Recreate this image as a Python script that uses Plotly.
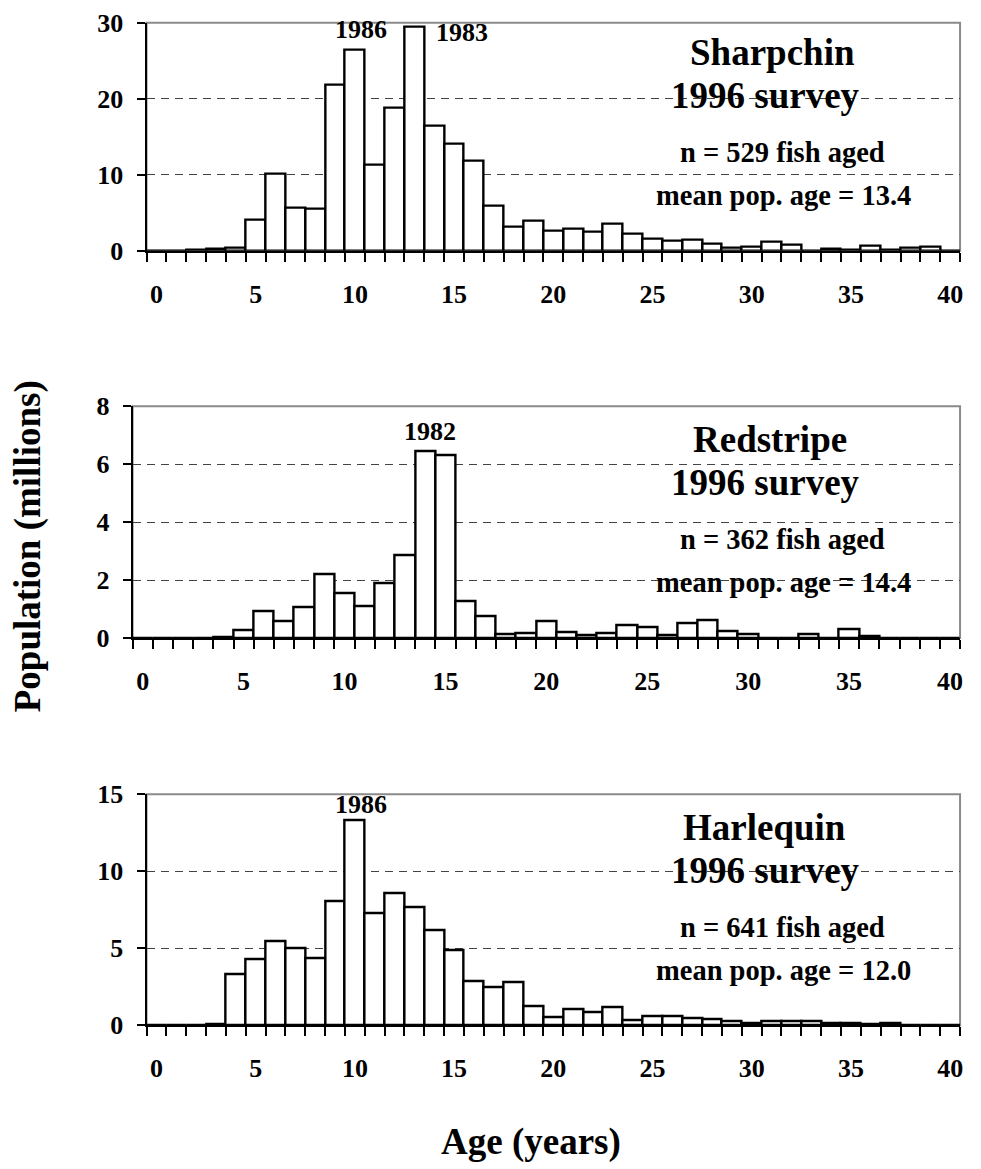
import plotly.graph_objects as go

# ---------------- data ----------------
ages = list(range(0, 41))

sharpchin = [0, 0, 0.1, 0.3, 0.45, 4.1, 10.2, 5.6, 5.5, 21.9, 26.5, 11.3, 18.8, 29.5,
             16.4, 14.1, 11.9, 5.9, 3.1, 3.9, 2.6, 2.95, 2.5, 3.6, 2.2, 1.55, 1.3, 1.5,
             0.9, 0.4, 0.55, 1.2, 0.75, 0, 0.25, 0.2, 0.6, 0.2, 0.4, 0.5, 0]

redstripe = [0, 0, 0, 0, 0.03, 0.29, 0.94, 0.59, 1.06, 2.2, 1.55, 1.09, 1.9, 2.85,
             6.44, 6.3, 1.29, 0.74, 0.13, 0.18, 0.57, 0.21, 0.1, 0.17, 0.43, 0.39, 0.09,
             0.53, 0.61, 0.24, 0.14, 0, 0, 0.15, 0, 0.3, 0.08, 0, 0, 0, 0]

harlequin = [0, 0, 0, 0.06, 3.29, 4.26, 5.43, 5.02, 4.37, 8.07, 13.3, 7.29, 8.55, 7.66,
             6.17, 4.85, 2.86, 2.47, 2.81, 1.21, 0.54, 1.06, 0.82, 1.17, 0.32, 0.61, 0.58,
             0.43, 0.37, 0.28, 0.15, 0.28, 0.28, 0.28, 0.1, 0.1, 0.08, 0.13, 0, 0, 0]

species = ["Sharpchin", "Redstripe", "Harlequin"]
survey_label = "1996 survey"
n_aged = [529, 362, 641]
mean_age = ["13.4", "14.4", "12.0"]
y_max = [30, 8, 15]
y_step = [10, 2, 5]
x_tick_labels = [0, 5, 10, 15, 20, 25, 30, 35, 40]
cohorts = [[("1986", 10, "above"), ("1983", 13, "right")],
           [("1982", 14, "above")],
           [("1986", 10, "above")]]
series = [sharpchin, redstripe, harlequin]

# ---------------- layout (pixels) ----------------
W, H = 981, 1169
SY, OY = 0.9756, 13.4          # observed vertical squeeze of the photographed page

def Y(y_ref):
    return (y_ref - OY) / SY

panels = [  # left, right, top, bottom (top/bottom in page pixels after compensation)
    (147, 963, 9.0, Y(250.3)),
    (133, 963, Y(405.7), Y(637.7)),
    (147, 963, Y(794), Y(1025)),
]
panel_tops_ref = [19.3, 405.7, 794]
species_x = [775, 772, 767]
cohort_yshift = [3, 3, -1]
FONT = "Liberation Serif"

def px(x):
    return x / W

def py(y):
    return 1 - y / H

fig = go.Figure()
layout = {}
annotations = []
shapes = []

for i, (vals, (l, r, t, b)) in enumerate(zip(series, panels)):
    idx = "" if i == 0 else str(i + 1)
    xa, ya = "x" + idx, "y" + idx
    fig.add_trace(go.Bar(
        x=ages, y=vals, width=1.0, xaxis=xa, yaxis=ya,
        marker=dict(color="white", line=dict(color="black", width=2.4)),
        showlegend=False, hoverinfo="x+y",
    ))
    layout["xaxis" + idx] = dict(
        domain=[px(l), px(r)], anchor=ya, range=[-0.5, 40.5],
        tickmode="array", tickvals=x_tick_labels, ticktext=[str(v) for v in x_tick_labels],
        ticks="", showgrid=False, zeroline=False,
        showline=True, linecolor="black", linewidth=2,
        tickfont=dict(family=FONT, size=26, color="black", weight="bold"),
        ticklabelstandoff=19,
        minor=dict(tickmode="array", tickvals=[a - 0.5 for a in ages] + [40.5],
                   ticks="outside", ticklen=9, tickcolor="black", tickwidth=1.5,
                   showgrid=False),
        fixedrange=True,
    )
    layout["yaxis" + idx] = dict(
        domain=[py(b), py(t)], anchor=xa, range=[0, y_max[i]],
        tickmode="linear", tick0=0, dtick=y_step[i],
        ticks="outside", ticklen=8, tickcolor="black", tickwidth=1.5,
        showgrid=True, gridcolor="#444444", gridwidth=1, griddash="8px,6px",
        zeroline=False, showline=True, linecolor="black", linewidth=2,
        tickfont=dict(family=FONT, size=26, color="black", weight="bold"),
        ticklabelstandoff=8, fixedrange=True,
    )
    shapes.append(dict(type="rect", xref=xa + " domain", yref=ya + " domain",
                       x0=0, x1=1, y0=0, y1=1, line=dict(color="#8a8a8a", width=2),
                       layer="below"))
    t_ref = panel_tops_ref[i]
    texts = [
        (species[i], species_x[i], 33, 37),
        (survey_label, 768, 76, 37),
        (f"n = {n_aged[i]} fish aged", 785, 133, 28.5),
        (f"mean pop. age = {mean_age[i]}", 786, 176, 28.5),
    ]
    for txt, cx, rel, fs in texts:
        annotations.append(dict(
            text=txt, x=px(cx), y=py(Y(t_ref + rel)), xref="paper", yref="paper",
            xanchor="center", yanchor="middle", showarrow=False,
            font=dict(family=FONT, size=fs, color="black", weight="bold"),
        ))
    for lab, age, pos in cohorts[i]:
        if pos == "above":
            annotations.append(dict(
                text=lab, x=age + (0.3 if i != 1 else 0.25), y=vals[age], xref=xa, yref=ya,
                xanchor="center", yanchor="bottom", yshift=cohort_yshift[i], showarrow=False,
                font=dict(family=FONT, size=26, color="black", weight="bold"),
            ))
        else:
            annotations.append(dict(
                text=lab, x=age + 0.5, y=vals[age], xref=xa, yref=ya,
                xanchor="left", yanchor="top", xshift=10, yshift=11, showarrow=False,
                font=dict(family=FONT, size=26, color="black", weight="bold"),
            ))

annotations.append(dict(
    text="Population (millions)", x=px(28), y=py(Y(546)), xref="paper", yref="paper",
    xanchor="center", yanchor="middle", textangle=-90, showarrow=False,
    font=dict(family=FONT, size=37, color="black", weight="bold"),
))
annotations.append(dict(
    text="Age (years)", x=px(533), y=py(min(Y(1150), 1157)), xref="paper", yref="paper",
    xanchor="center", yanchor="middle", showarrow=False,
    font=dict(family=FONT, size=37, color="black", weight="bold"),
))

fig.update_layout(
    width=W, height=H, margin=dict(l=0, r=0, t=0, b=0),
    paper_bgcolor="white", plot_bgcolor="white",
    bargap=0, annotations=annotations, shapes=shapes,
    **layout,
)

fig.write_html(
    "out.html",
    config={"displayModeBar": False},
    post_script=(
        "var gd=document.getElementById('{plot_id}');"
        "gd.style.position='fixed';gd.style.top='0px';gd.style.left='0px';"
        "document.body.style.margin='0';document.body.style.height='1169px';"
        "document.documentElement.style.overflow='hidden';"
    ),
)
